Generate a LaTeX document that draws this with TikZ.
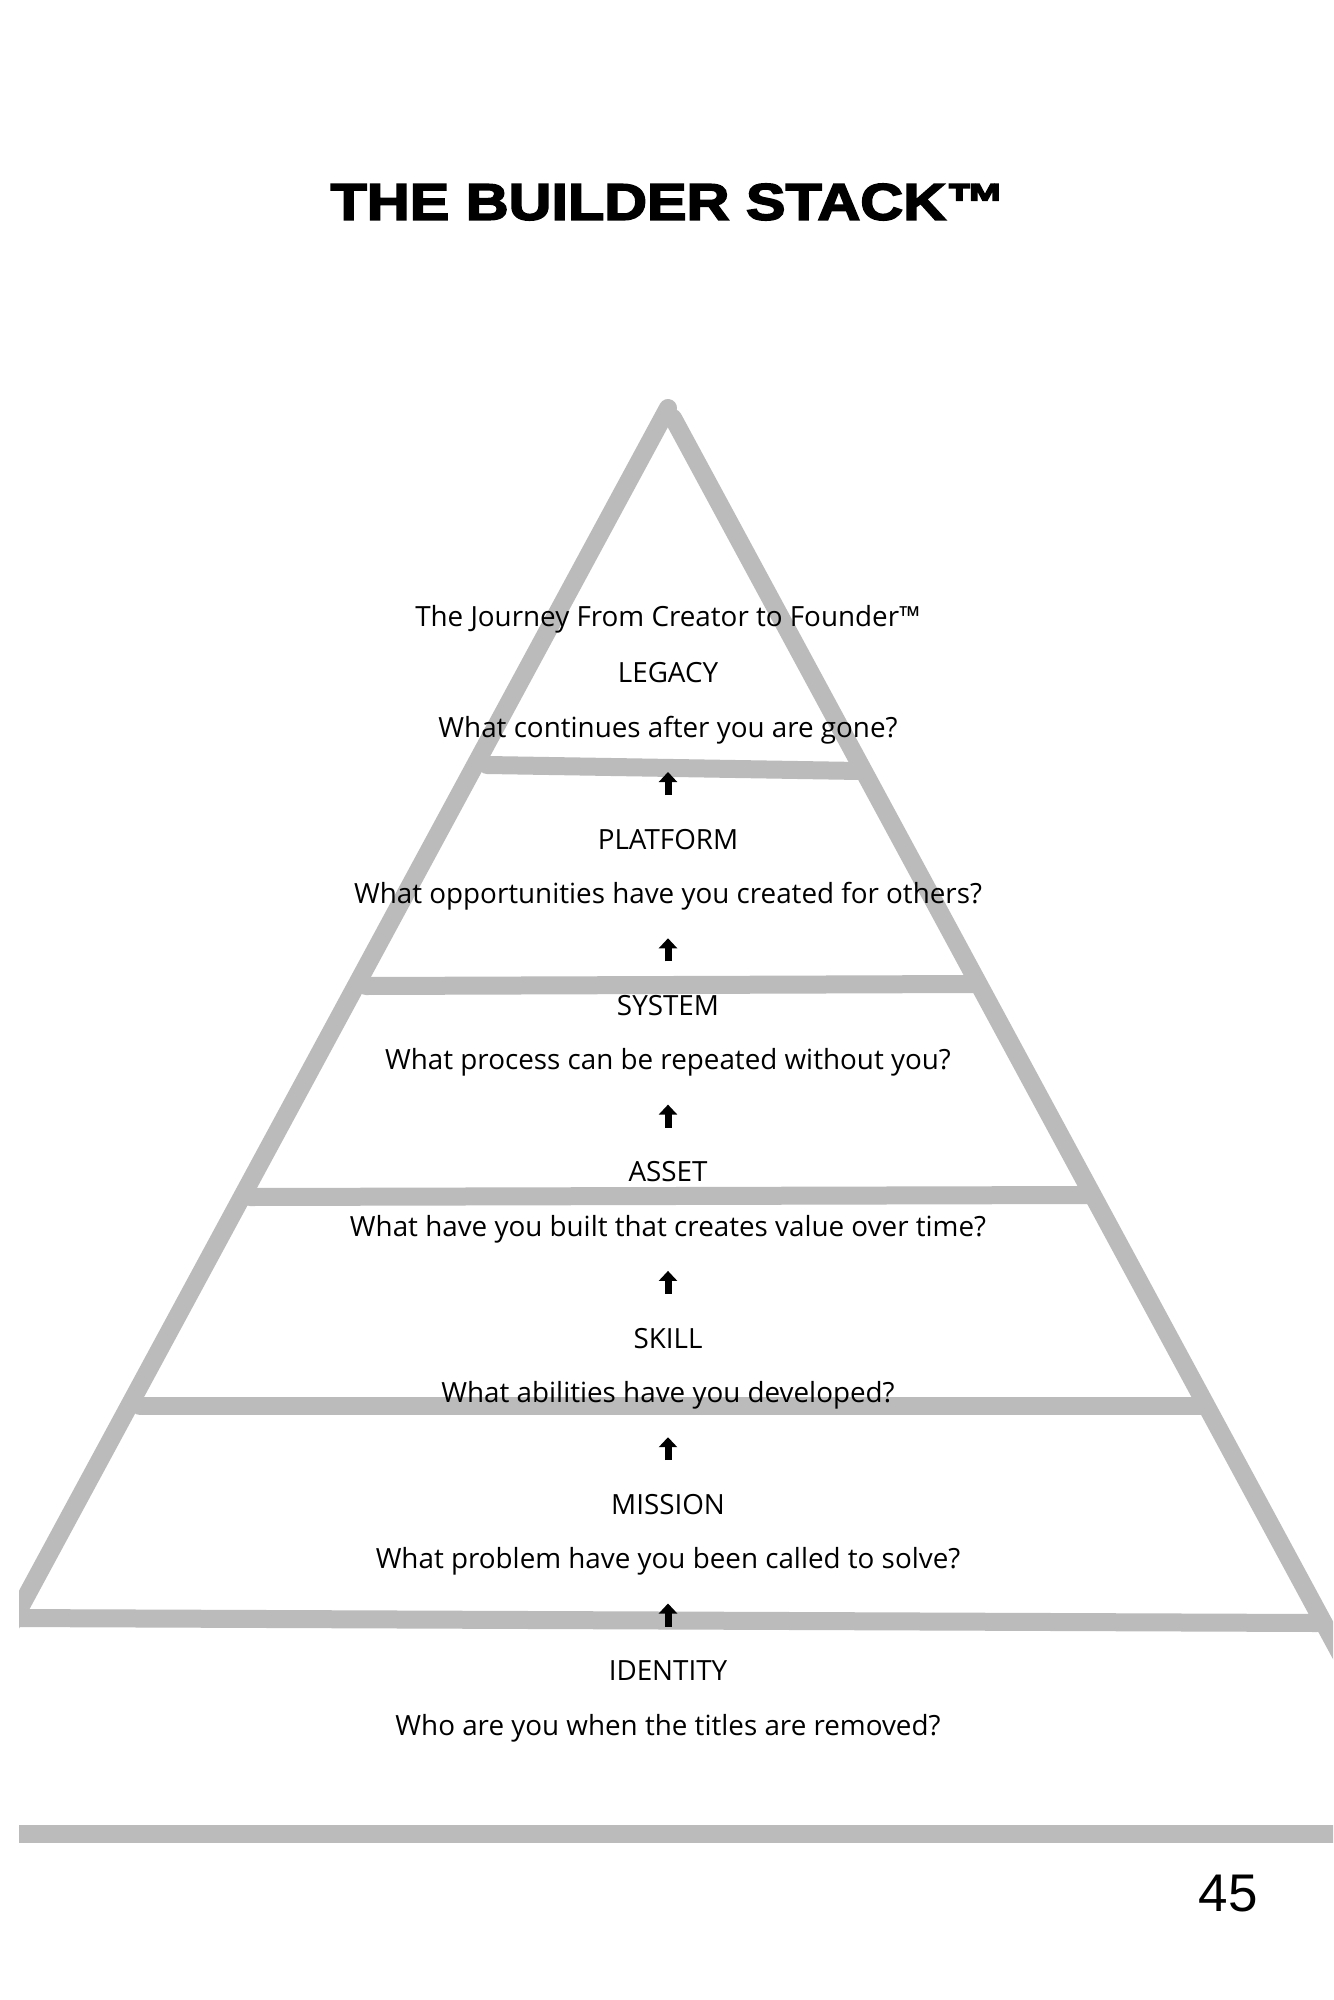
\documentclass[tikz,border=0pt]{standalone}
\usepackage{fontspec}
\setmainfont{Open Sans}
\newfontfamily\titlefont[BoldFeatures={FakeBold=3}]{Liberation Sans}
\newfontfamily\numfont{Liberation Sans}
\usetikzlibrary{arrows.meta}
\definecolor{stackgray}{HTML}{BBBBBB}

\begin{document}
\begin{tikzpicture}[
    x=0.5pt, y=-0.5pt,
    wall/.style={draw=stackgray, line width=9pt, line cap=round},
    floor/.style={draw=stackgray, line width=9pt},
    level/.style={font=\fontsize{13.9}{16}\selectfont, inner sep=0pt},
    uparrow/.style={-{Triangle[length=5pt, width=9pt]}, line width=3.5pt}
  ]
    \useasboundingbox[fill=white] (0,0) rectangle (1333,2000);

    % Title
    \node[font=\titlefont\bfseries\fontsize{25.8}{30}\selectfont] (title) at (668,202)
      {\scalebox{1.15}[1]{THE BUILDER STACK™}};

    % Pyramid
    \begin{scope}
      \clip (19,0) rectangle (1333,2000);
      \draw[wall] (668,408) -- (8,1630);
      \draw[wall] (673,418) -- (1348,1668);
      \draw[wall] (487,765) -- (860,771);
      \draw[wall] (366,986) -- (976,984);
      \draw[wall] (250,1197) -- (1092,1195);
      \draw[wall] (140,1406) -- (1205,1406);
      \draw[wall] (10,1618) -- (1317,1623);
      % Base line
      \draw[floor] (10,1834) -- (1340,1834);
    \end{scope}

    % Subtitle
    \node[level] (journey) at (668,619) {The Journey From Creator to Founder™};

    % Levels
    \foreach \name/\question [count=\i from 0] in {
        LEGACY/What continues after you are gone?,
        PLATFORM/What opportunities have you created for others?,
        SYSTEM/What process can be repeated without you?,
        ASSET/What have you built that creates value over time?,
        SKILL/What abilities have you developed?,
        MISSION/What problem have you been called to solve?,
        IDENTITY/Who are you when the titles are removed?} {
      \node[level] (name\i) at (668,{673+166.3*\i}) {\name};
      \node[level] (ques\i) at (668,{730+166.3*\i}) {\question};
    }

    % Arrows
    \foreach \i in {0,...,5} {
      \coordinate (foot\i) at (668,{795+166.3*\i});
      \coordinate (tip\i) at (668,{772+166.3*\i});
      \draw[uparrow] (foot\i) -- (tip\i);
    }

    % Page number
    \node[font=\numfont\fontsize{26.5}{30}\selectfont] (page) at (1228,1894) {45};

  \end{tikzpicture}
\end{document}
